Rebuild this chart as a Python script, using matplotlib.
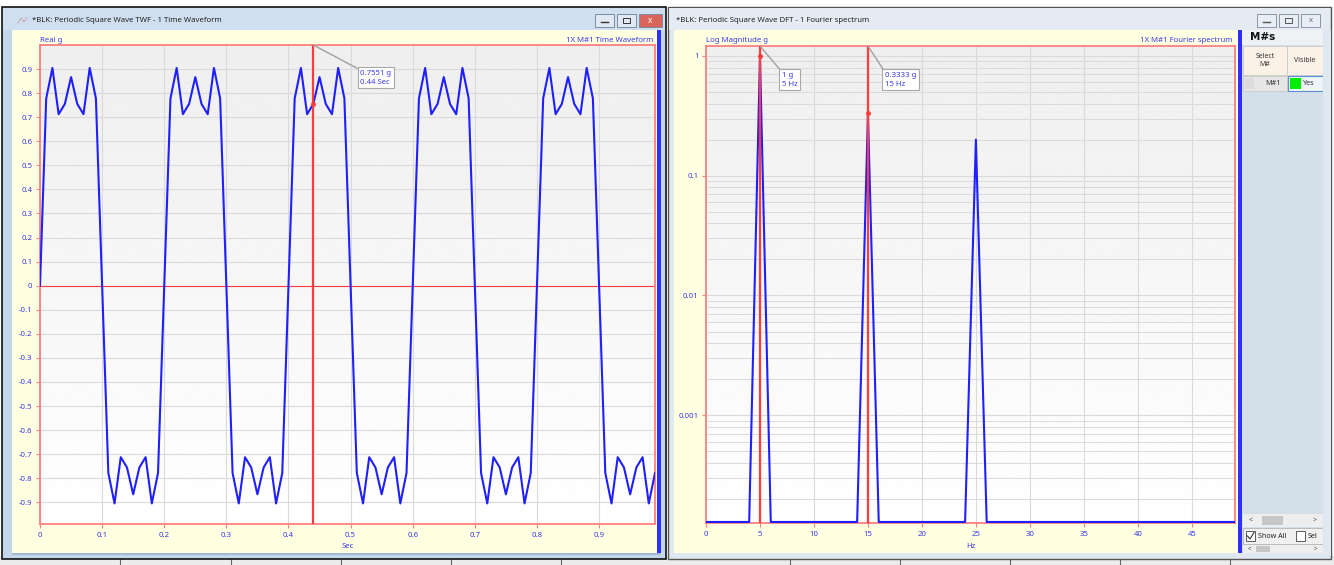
import matplotlib
matplotlib.use("Agg")
import matplotlib.pyplot as plt
import numpy as np
from matplotlib.patches import Rectangle

# ---------------- data ----------------
twf_dt = 0.01
twf_values = [
    0.0, 0.7781, 0.9045, 0.7125, 0.7551, 0.8667, 0.7551, 0.7125, 0.9045, 0.7781,
    0.0, -0.7781, -0.9045, -0.7125, -0.7551, -0.8667, -0.7551, -0.7125, -0.9045, -0.7781,
    0.0, 0.7781, 0.9045, 0.7125, 0.7551, 0.8667, 0.7551, 0.7125, 0.9045, 0.7781,
    0.0, -0.7781, -0.9045, -0.7125, -0.7551, -0.8667, -0.7551, -0.7125, -0.9045, -0.7781,
    0.0, 0.7781, 0.9045, 0.7125, 0.7551, 0.8667, 0.7551, 0.7125, 0.9045, 0.7781,
    0.0, -0.7781, -0.9045, -0.7125, -0.7551, -0.8667, -0.7551, -0.7125, -0.9045, -0.7781,
    0.0, 0.7781, 0.9045, 0.7125, 0.7551, 0.8667, 0.7551, 0.7125, 0.9045, 0.7781,
    0.0, -0.7781, -0.9045, -0.7125, -0.7551, -0.8667, -0.7551, -0.7125, -0.9045, -0.7781,
    0.0, 0.7781, 0.9045, 0.7125, 0.7551, 0.8667, 0.7551, 0.7125, 0.9045, 0.7781,
    0.0, -0.7781, -0.9045, -0.7125, -0.7551, -0.8667, -0.7551, -0.7125, -0.9045, -0.7781,
]
twf_time = np.arange(len(twf_values)) * twf_dt

dft_freq = list(range(50))
dft_mag = [
    0.0, 0.0, 0.0, 0.0, 0.0, 1.0, 0.0, 0.0, 0.0, 0.0,
    0.0, 0.0, 0.0, 0.0, 0.0, 0.3333, 0.0, 0.0, 0.0, 0.0,
    0.0, 0.0, 0.0, 0.0, 0.0, 0.2, 0.0, 0.0, 0.0, 0.0,
    0.0, 0.0, 0.0, 0.0, 0.0, 0.0, 0.0, 0.0, 0.0, 0.0,
    0.0, 0.0, 0.0, 0.0, 0.0, 0.0, 0.0, 0.0, 0.0, 0.0,
]

twf_cursor_t = 0.44
twf_cursor_v = 0.7551
dft_cursor_f = [5, 15]
dft_cursor_m = [1.0, 0.3333]

twf_yticks = [0.9, 0.8, 0.7, 0.6, 0.5, 0.4, 0.3, 0.2, 0.1, 0.0,
              -0.1, -0.2, -0.3, -0.4, -0.5, -0.6, -0.7, -0.8, -0.9]
twf_yticklabels = ["0.9", "0.8", "0.7", "0.6", "0.5", "0.4", "0.3", "0.2", "0.1", "0",
                   "-0.1", "-0.2", "-0.3", "-0.4", "-0.5", "-0.6", "-0.7", "-0.8", "-0.9"]
twf_xticks = [0, 0.1, 0.2, 0.3, 0.4, 0.5, 0.6, 0.7, 0.8, 0.9]
twf_xticklabels = ["0", "0.1", "0.2", "0.3", "0.4", "0.5", "0.6", "0.7", "0.8", "0.9"]
dft_yticks = [1, 0.1, 0.01, 0.001]
dft_yticklabels = ["1", "0.1", "0.01", "0.001"]
dft_xticks = [0, 5, 10, 15, 20, 25, 30, 35, 40, 45]
dft_xticklabels = ["0", "5", "10", "15", "20", "25", "30", "35", "40", "45"]

# ---------------- style ----------------
W, H, DPI = 1334, 565, 100
plt.rcParams['font.family'] = ['Noto Sans', 'DejaVu Sans']
BLUE_TXT = '#3a3ae6'
LINE_BLUE = '#1f1fff'
RED = '#ff3b3b'
SPINE = '#ff8080'
GRID = '#dadada'
CREAM = '#ffffe1'
FS = 5.6
DFT_YMIN, DFT_YMAX = 1.26e-4, 1.21

fig = plt.figure(figsize=(W / DPI, H / DPI), dpi=DPI, facecolor='white')
bg = fig.add_axes([0, 0, 1, 1], zorder=0)
bg.set_xlim(0, W)
bg.set_ylim(H, 0)
bg.axis('off')


def rect(x0, y0, x1, y1, fc, ec='none', lw=0.8, z=1):
    bg.add_patch(Rectangle((x0, y0), x1 - x0, y1 - y0, facecolor=fc,
                           edgecolor=ec, linewidth=lw, zorder=z))


# bottom strip
rect(0, 556, W, H, '#ececec', z=0.5)
for xs in [120, 231, 341, 451, 561, 790, 900, 1010, 1120, 1230]:
    bg.plot([xs, xs], [558, 565], color='#666666', lw=0.8, zorder=0.6)

# left window
rect(2, 7, 666, 559, '#c4d6ea', ec='#111111', lw=1.2)
rect(3, 8, 665, 30, '#cfdff0')
rect(12, 30, 657, 553, CREAM, z=2)
rect(657, 30, 660.5, 553, '#2f2fff', z=2)
rect(12, 553, 660, 555, '#9fb9d3', z=2)
bg.text(32, 20, "*BLK: Periodic Square Wave TWF - 1 Time Waveform", fontsize=FS,
        va='center', ha='left', color='#222222', zorder=3)
bg.plot([18, 21, 24, 27], [23, 18, 22, 17], color='#cc6666', lw=0.8, ls=':', zorder=3)
for (bx0, bx1, c) in [(595, 614, '#dfe8f3'), (617, 636, '#dfe8f3'), (639, 662, '#d9655a')]:
    rect(bx0, 14, bx1, 27, c, ec='#7d8da0', lw=0.7, z=3)
bg.plot([601, 608], [22, 22], color='#333333', lw=1, zorder=4)
rect(623, 18, 630, 23, 'none', ec='#333333', lw=0.7, z=4)
bg.text(650.5, 20.5, "x", fontsize=6, color='white', ha='center', va='center',
        fontweight='bold', zorder=4)

# right window
rect(668, 7, 1331, 559, '#dfe7f0', ec='#555555', lw=1.0)
rect(669, 8, 1330, 30, '#e4ebf3')
rect(674, 30, 1238, 553, CREAM, z=2)
rect(1238, 30, 1241.5, 553, '#2f2fff', z=2)
bg.text(676, 20, "*BLK: Periodic Square Wave DFT - 1 Fourier spectrum", fontsize=FS,
        va='center', ha='left', color='#222222', zorder=3)
for (bx0, bx1) in [(1257, 1276), (1279, 1298), (1301, 1320)]:
    rect(bx0, 14, bx1, 27, '#e8eef5', ec='#8c97a4', lw=0.7, z=3)
bg.plot([1263, 1270], [22, 22], color='#555555', lw=1, zorder=4)
rect(1285, 18, 1292, 23, 'none', ec='#555555', lw=0.7, z=4)
bg.text(1310.5, 20.5, "x", fontsize=5.5, color='#666666', ha='center', va='center', zorder=4)

# M#s panel
rect(1242, 30, 1323, 553, '#d3e0ea', z=2)
rect(1242, 30, 1323, 45, '#eef2f5', z=2.1)
bg.text(1250, 37.5, "M#s", fontsize=7.5, fontweight='bold', va='center', ha='left',
        color='#111111', zorder=3, family='DejaVu Sans')
rect(1243, 46, 1287, 75, '#fbf1e7', ec='#c9c9c9', lw=0.6, z=3)
rect(1287, 46, 1323, 75, '#fbf1e7', ec='#c9c9c9', lw=0.6, z=3)
bg.text(1265, 60.5, "Select\nM#", fontsize=5, ha='center', va='center',
        color='#333333', zorder=4, linespacing=1.3)
bg.text(1305, 61, "Visible", fontsize=5, ha='center', va='center', color='#333333', zorder=4)
rect(1243, 76, 1287, 91, '#e6e6e6', ec='#c9c9c9', lw=0.6, z=3)
rect(1245, 78, 1254, 89, '#dcdcdc', z=3.1)
bg.text(1273, 83.5, "M#1", fontsize=5.2, ha='center', va='center', color='#333333', zorder=4)
rect(1288, 76, 1323, 91, '#eef4fa', ec='#5b8fd0', lw=0.8, z=3)
rect(1290, 78, 1301, 89, '#00ee00', z=3.2)
bg.text(1303, 83.5, "Yes", fontsize=5.2, ha='left', va='center', color='#333333', zorder=4)
rect(1243, 514, 1323, 527, '#eeeeee', z=3)
rect(1262, 516, 1283, 525, '#c6c6c6', z=3.1)
bg.text(1251, 520.5, "<", fontsize=5, ha='center', va='center', color='#444444', zorder=4)
bg.text(1315, 520.5, ">", fontsize=5, ha='center', va='center', color='#444444', zorder=4)
rect(1243, 528, 1323, 544, '#f0f0f0', ec='#aaaaaa', lw=0.5, z=3)
rect(1246, 531, 1255, 541, 'white', ec='#444444', lw=0.6, z=3.1)
bg.plot([1247.5, 1250, 1254], [536, 539, 532.5], color='#333333', lw=0.8, zorder=4)
bg.text(1258, 536, "Show All", fontsize=5.2, ha='left', va='center', color='#222222', zorder=4)
rect(1296, 531, 1305, 541, 'white', ec='#444444', lw=0.6, z=3.1)
bg.text(1308, 536, "Sel", fontsize=5.2, ha='left', va='center', color='#222222', zorder=4)
rect(1323, 30, 1331, 556, '#dfe7f0', z=4.5)
rect(1243, 545, 1323, 553, '#eeeeee', z=3)
rect(1256, 546, 1270, 552, '#c6c6c6', z=3.1)
bg.text(1249, 549, "<", fontsize=4.5, ha='center', va='center', color='#444444', zorder=4)
bg.text(1316, 549, ">", fontsize=4.5, ha='center', va='center', color='#444444', zorder=4)


# ---------------- plot axes ----------------
def px_rect(x0, y0, x1, y1):
    return [x0 / W, 1 - y1 / H, (x1 - x0) / W, (y1 - y0) / H]


def make_axes(pos):
    gax = fig.add_axes(pos, zorder=3)
    gax.imshow(np.linspace(0.935, 1.0, 256).reshape(-1, 1), cmap='gray', vmin=0, vmax=1,
               aspect='auto', extent=[0, 1, 0, 1], origin='upper')
    gax.axis('off')
    ax = fig.add_axes(pos, zorder=4)
    ax.set_facecolor('none')
    for s in ax.spines.values():
        s.set_color(SPINE)
        s.set_linewidth(1.3)
    ax.tick_params(axis='both', which='both', colors=SPINE, labelcolor=BLUE_TXT,
                   labelsize=FS, length=3, width=0.8, pad=2.5)
    ax.tick_params(axis='both', which='minor', length=0)
    return ax


pos_l = px_rect(40, 45, 655, 524)
pos_r = px_rect(706, 46, 1235, 523)

# --- time waveform ---
axl = make_axes(pos_l)
axl.set_xlim(0, 0.99)
axl.set_ylim(-0.99, 1.0)
axl.set_xticks(twf_xticks)
axl.set_xticklabels(twf_xticklabels)
axl.set_yticks(twf_yticks)
axl.set_yticklabels(twf_yticklabels)
axl.grid(True, color=GRID, lw=0.8)
axl.set_axisbelow(True)
axl.axhline(0, color=RED, lw=0.8, zorder=2)
axl.plot(twf_time, twf_values, color=LINE_BLUE, lw=1.5, zorder=3)
axl.axvline(twf_cursor_t, color=RED, lw=1.6, zorder=4)
axl.plot([twf_cursor_t], [twf_cursor_v], 'o', color=RED, ms=2.5, zorder=5)
axl.annotate("0.7551 g\n0.44 Sec", xy=(twf_cursor_t, 1.0), xycoords=('data', 'axes fraction'),
             xytext=(47, -25), textcoords='offset pixels', ha='left', va='top',
             fontsize=FS, color=BLUE_TXT, linespacing=1.35, zorder=6,
             bbox=dict(boxstyle='square,pad=0.35', fc='white', ec='#a8a8a8', lw=0.8),
             arrowprops=dict(arrowstyle='-', color='#a0a0a0', lw=1.0, relpos=(0, 1),
                             shrinkA=0, shrinkB=0))
axl.set_xlabel("Sec", fontsize=FS, color=BLUE_TXT, labelpad=3.5)
bg.text(40, 40, "Real g", fontsize=FS, color=BLUE_TXT, ha='left', va='center', zorder=5)
bg.text(653, 40, "1X M#1 Time Waveform", fontsize=FS, color=BLUE_TXT, ha='right',
        va='center', zorder=5)

# --- DFT (values at/below the plot floor are drawn on the floor) ---
axr = make_axes(pos_r)
axr.set_yscale('log')
axr.set_xlim(0, 49)
axr.set_ylim(DFT_YMIN, DFT_YMAX)
axr.set_xticks(dft_xticks)
axr.set_xticklabels(dft_xticklabels)
axr.set_yticks(dft_yticks)
axr.set_yticklabels(dft_yticklabels)
axr.yaxis.set_minor_locator(matplotlib.ticker.LogLocator(base=10, subs=np.arange(2, 10)))
axr.yaxis.set_minor_formatter(matplotlib.ticker.NullFormatter())
axr.grid(True, which='major', color=GRID, lw=0.8)
axr.grid(True, which='minor', axis='y', color=GRID, lw=0.7)
axr.set_axisbelow(True)
dft_draw = np.clip(np.asarray(dft_mag), DFT_YMIN * 1.02, None)
axr.plot(dft_freq, dft_draw, color=LINE_BLUE, lw=1.5, zorder=3)
for f, m in zip(dft_cursor_f, dft_cursor_m):
    axr.axvline(f, color=RED, lw=1.6, zorder=4)
    axr.plot([f], [m], 'o', color=RED, ms=2.5, zorder=5)
axr.annotate("1 g\n5 Hz", xy=(dft_cursor_f[0], 1.0), xycoords=('data', 'axes fraction'),
             xytext=(22, -26), textcoords='offset pixels', ha='left', va='top',
             fontsize=FS, color=BLUE_TXT, linespacing=1.35, zorder=6,
             bbox=dict(boxstyle='square,pad=0.35', fc='white', ec='#a8a8a8', lw=0.8),
             arrowprops=dict(arrowstyle='-', color='#a0a0a0', lw=1.0, relpos=(0, 1),
                             shrinkA=0, shrinkB=0))
axr.annotate("0.3333 g\n15 Hz", xy=(dft_cursor_f[1], 1.0), xycoords=('data', 'axes fraction'),
             xytext=(17, -26), textcoords='offset pixels', ha='left', va='top',
             fontsize=FS, color=BLUE_TXT, linespacing=1.35, zorder=6,
             bbox=dict(boxstyle='square,pad=0.35', fc='white', ec='#a8a8a8', lw=0.8),
             arrowprops=dict(arrowstyle='-', color='#a0a0a0', lw=1.0, relpos=(0, 1),
                             shrinkA=0, shrinkB=0))
axr.set_xlabel("Hz", fontsize=FS, color=BLUE_TXT, labelpad=3.5)
bg.text(706, 40, "Log Magnitude g", fontsize=FS, color=BLUE_TXT, ha='left', va='center', zorder=5)
bg.text(1233, 40, "1X M#1 Fourier spectrum", fontsize=FS, color=BLUE_TXT, ha='right',
        va='center', zorder=5)

fig.savefig("out.png", dpi=DPI, facecolor='white')
